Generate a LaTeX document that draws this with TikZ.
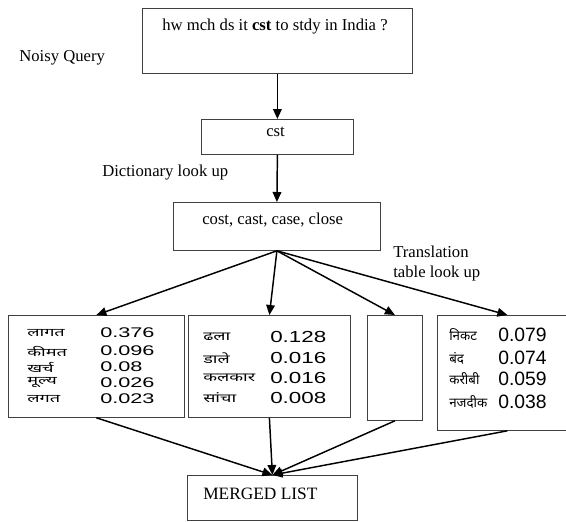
\documentclass[tikz,border=0pt]{standalone}
\usepackage{fontspec}
\setmainfont{Liberation Serif}
\newfontfamily\hindifont[Script=Devanagari]{Noto Sans}
\newfontfamily\hindifontA[Script=Devanagari,FakeStretch=1.6]{Noto Sans}
\newfontfamily\hindifontB[Script=Devanagari,FakeStretch=1.5]{Noto Sans}
\newfontfamily\numfont{Liberation Sans}
\newfontfamily\numfontA[FakeStretch=1.55]{Liberation Sans}
\newfontfamily\numfontB[FakeStretch=1.4]{Liberation Sans}
\usetikzlibrary{arrows.meta}

\tikzset{
  box/.style={draw=black!75, line width=0.6pt, anchor=north west, inner sep=0pt},
  link/.style={line width=1.1pt, -{Triangle[length=7.5pt,width=6.5pt]}},
  lbl/.style={anchor=west, inner sep=0.75pt, font=\fontsize{12.5}{14}\selectfont},
  hinA/.style={anchor=west, inner sep=0pt, font=\hindifontA\fontsize{8.5}{9}\selectfont},
  numA/.style={anchor=west, inner sep=0pt, font=\numfontA\fontsize{10.5}{12}\selectfont},
  hinB/.style={anchor=west, inner sep=0pt, font=\hindifontB\fontsize{9}{10}\selectfont},
  numB/.style={anchor=west, inner sep=0pt, font=\numfontB\fontsize{12}{14}\selectfont},
  hinC/.style={anchor=west, inner sep=0pt, font=\hindifont\fontsize{10}{12}\selectfont},
  numC/.style={anchor=west, inner sep=0pt, font=\numfont\fontsize{14.5}{16}\selectfont},
}

\begin{document}
\begin{tikzpicture}[x=0.75pt,y=0.75pt,yscale=-1,xscale=1]
            \useasboundingbox (0,0) rectangle (566,521);

            %Shape: Rectangle [query]
            \node [box, minimum width=202.5pt, minimum height=48.75pt] (query) at (142,8) {};
            %Shape: Rectangle [cst]
            \node [box, minimum width=114pt, minimum height=26.25pt] (cst) at (201,119) {};
            %Shape: Rectangle [candidates]
            \node [box, minimum width=155.25pt, minimum height=36pt] (cands) at (173,202) {};
            %Shape: Rectangle [tables]
            \node [box, minimum width=132pt, minimum height=76.5pt] (tabA) at (8,315) {};
            \node [box, minimum width=121.5pt, minimum height=76.5pt] (tabB) at (188,315) {};
            \node [box, minimum width=41.25pt, minimum height=78.75pt] (tabC) at (367,315) {};
            \node [box, minimum width=105pt, minimum height=86.25pt] (tabD) at (437,315) {};
            %Shape: Rectangle [merged]
            \node [box, minimum width=127.5pt, minimum height=33.75pt] (merged) at (187,475) {};

            %Straight Lines
            \draw [link] (query.south) -- (cst.north);
            \draw [link] (cst.south) -- (cands.north);
            \draw [link] (cands.south) -- (tabA.north);
            \draw [link] (cands.south) -- (tabB.north);
            \draw [link] (cands.south) -- (tabC.north);
            \draw [link] (cands.south) -- (tabD.north);
            \draw [link] (tabA.south) -- (merged.north);
            \draw [link] (tabB.south) -- (merged.north);
            \draw [link] (tabC.south) -- (merged.north);
            \draw [link] (tabD.south) -- (merged.north);

            % Text Node
            \node [lbl] (querytxt) at (161,27) {hw mch ds it \textbf{cst} to stdy in India ?};
            % Text Node
            \node [lbl] (noisy) at (18,58) {Noisy Query};
            % Text Node
            \node [lbl] (csttxt) at (265,132) {cst};
            % Text Node
            \node [lbl] (dict) at (101,173) {Dictionary look up};
            % Text Node
            \node [lbl] (candtxt) at (201,220) {cost, cast, case, close};
            % Text Node
            \node [lbl] (transA) at (392,252) {Translation};
            % Text Node
            \node [lbl] (transB) at (392,273) {table look up};
            % Text Node
            \node [lbl, font=\fontsize{13}{15}\selectfont] (mergedtxt) at (202,494) {MERGED LIST};

            % Text Node [table cost]
            \node [hinA] (wA1) at (27,333) {लागत};
            \node [numA] (pA1) at (100,333) {0.376};
            \node [hinA] (wA2) at (27,351) {कीमत};
            \node [numA] (pA2) at (100,351) {0.096};
            \node [hinA] (wA3) at (27,367) {खर्च};
            \node [numA] (pA3) at (100,367) {0.08};
            \node [hinA] (wA4) at (27,383) {मूल्य};
            \node [numA] (pA4) at (100,383) {0.026};
            \node [hinA] (wA5) at (27,399) {लगत};
            \node [numA] (pA5) at (100,399) {0.023};

            % Text Node [table cast]
            \node [hinB] (wB1) at (203,337) {ढला};
            \node [numB] (pB1) at (270,337) {0.128};
            \node [hinB] (wB2) at (203,358) {डाले};
            \node [numB] (pB2) at (270,358) {0.016};
            \node [hinB] (wB3) at (203,378) {कलकार};
            \node [numB] (pB3) at (270,378) {0.016};
            \node [hinB] (wB4) at (203,398) {सांचा};
            \node [numB] (pB4) at (270,398) {0.008};

            % Text Node [table close]
            \node [hinC] (wD1) at (449,335) {निकट};
            \node [numC] (pD1) at (498,335) {0.079};
            \node [hinC] (wD2) at (449,358) {बंद};
            \node [numC] (pD2) at (498,358) {0.074};
            \node [hinC] (wD3) at (449,379) {करीबी};
            \node [numC] (pD3) at (498,379) {0.059};
            \node [hinC] (wD4) at (449,402) {नजदीक};
            \node [numC] (pD4) at (498,402) {0.038};

\end{tikzpicture}
\end{document}
